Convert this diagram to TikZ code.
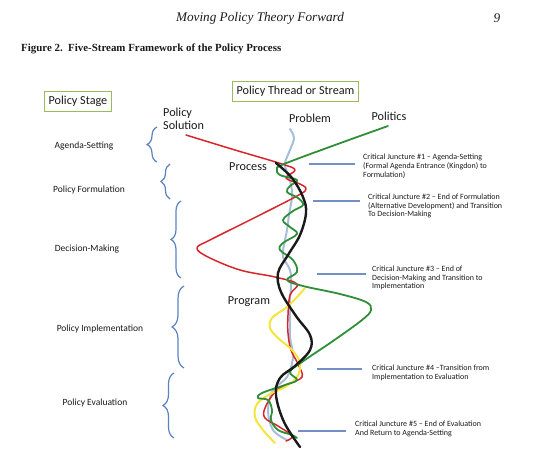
\documentclass[tikz,border=0pt]{standalone}
\usepackage{fontspec,xcolor,tikz}
\setmainfont{Liberation Serif}
\newfontfamily\calib{Carlito}
\usetikzlibrary{decorations.pathreplacing}
\definecolor{ink}{HTML}{1A1A1A}
\definecolor{solution}{HTML}{D8242B}
\definecolor{politics}{HTML}{2E8F38}
\definecolor{problem}{HTML}{A6BED8}
\definecolor{program}{HTML}{F4E53C}
\definecolor{bracket}{HTML}{5A82BE}
\definecolor{juncture}{HTML}{7291C2}
\definecolor{boxline}{HTML}{9BBB59}
\newcommand{\junc}{\fontsize{8}{8.8}\selectfont}
\newcommand{\stagef}{\fontsize{9.5}{11}\selectfont}
\newcommand{\streamf}{\fontsize{12.2}{13.6}\selectfont}
\tikzset{strand/.style={line width=1.6pt,line join=round,line cap=round},
  bracebar/.style={bracket,line width=1.2pt,decorate,decoration={brace,amplitude=#1}},
  junctbar/.style={juncture,line width=2.6pt},
  labelbox/.style={draw=boxline,line width=0.9pt,inner xsep=4pt,minimum height=20pt,font=\calib\streamf,text=ink}}

\begin{document}
\begin{tikzpicture}[x=1pt,y=-1pt]
\useasboundingbox (0,0) rectangle (552,459);
\node[inner sep=0,text=ink,font=\fontsize{13.2}{15}\selectfont\itshape] (runhead) at (260,18) {Moving Policy Theory Forward};
\node[inner sep=0,text=ink,font=\fontsize{13.2}{15}\selectfont\itshape] (pageno) at (497,18) {9};
\node[anchor=west,inner sep=0,text=ink,font=\fontsize{10.9}{12}\selectfont\bfseries] (caption) at (21,49) {Figure 2.\ \ Five-Stream Framework of the Policy Process};
\node[labelbox] (stagebox) at (78,101) {Policy Stage};
\node[labelbox] (streambox) at (295.5,91) {Policy Thread or Stream};
\node[anchor=west,inner sep=0,align=left,text=ink,font=\calib\streamf] (solution) at (163,119) {Policy\\Solution};
\node[inner sep=0,text=ink,font=\calib\streamf] (problem) at (310,118) {Problem};
\node[inner sep=0,text=ink,font=\calib\streamf] (politics) at (389,116) {Politics};
\node[inner sep=0,text=ink,font=\calib\streamf] (process) at (248,167) {Process};
\node[inner sep=0,text=ink,font=\calib\streamf] (program) at (249,302) {Program};
\node[inner sep=0,text=ink,font=\calib\stagef] (agenda) at (84,146) {Agenda-Setting};
\node[inner sep=0,text=ink,font=\calib\stagef] (formul) at (89,190) {Policy Formulation};
\node[inner sep=0,text=ink,font=\calib\stagef] (decide) at (87,249) {Decision-Making};
\node[inner sep=0,text=ink,font=\calib\stagef] (implem) at (100,329) {Policy Implementation};
\node[inner sep=0,text=ink,font=\calib\stagef] (evalu) at (95,403) {Policy Evaluation};
\draw[bracebar=10pt] (157,162) -- (157,127);
\draw[bracebar=9pt] (170,199) -- (170,164);
\draw[bracebar=10pt] (181,278) -- (181,201);
\draw[bracebar=12pt] (184,368) -- (184,286);
\draw[bracebar=11pt] (174,438) -- (174,373);
\draw[junctbar] (309,164) -- (355,164);
\draw[junctbar] (313,201) -- (360,201);
\draw[junctbar] (317,274) -- (366,274);
\draw[junctbar] (317,369) -- (362,369);
\draw[junctbar] (298,431) -- (346,431);
\node[anchor=west,inner sep=0,align=left,text=ink,font=\calib\junc] (cj1) at (363,166) {Critical Juncture \#1 – Agenda-Setting\\(Formal Agenda Entrance (Kingdon) to\\Formulation)};
\node[anchor=west,inner sep=0,align=left,text=ink,font=\calib\junc] (cj2) at (368,206) {Critical Juncture \#2 – End of Formulation\\(Alternative Development) and Transition\\To Decision-Making};
\node[anchor=west,inner sep=0,align=left,text=ink,font=\calib\junc] (cj3) at (372,278) {Critical Juncture \#3 – End of\\Decision-Making and Transition to\\Implementation};
\node[anchor=west,inner sep=0,align=left,text=ink,font=\calib\junc] (cj4) at (372,372.5) {Critical Juncture \#4 –Transition from\\Implementation to Evaluation};
\node[anchor=west,inner sep=0,align=left,text=ink,font=\calib\junc] (cj5) at (355,429) {Critical Juncture \#5 – End of Evaluation\\And Return to Agenda-Setting};
\draw[problem,strand,line width=2pt] plot[smooth,tension=0.6] coordinates {(290,129) (294,138) (290,150) (285,163) (287,172) (291,185) (292,197) (289,215) (287,230) (284,245) (283,257) (290,270) (291,285) (290,300) (290,317) (290,337) (293,357) (287,377) (273,390) (268,410) (273,430) (287,440)};
\draw[solution,strand,line width=1.5pt] plot[smooth,tension=0.6] coordinates {(186,135) (235,150) (282,164) (295,170) (286,178) (300,184) (306,189) (297,196) (250,220) (210,240) (197,248) (208,257) (240,270) (275,277) (297,284) (290,295) (288,315) (288,333) (291,350) (298,364) (302,377) (288,384) (275,392) (265,408) (265,418) (278,426) (292,436) (286,441)};
\draw[program,strand,line width=2pt] plot[smooth,tension=0.6] coordinates {(305,288) (297,297) (287,307) (272,318) (270,328) (278,338) (292,350) (300,363) (297,377) (285,387) (270,394) (257,404) (255,417) (263,430) (275,443)};
\draw[politics,strand,line width=1.8pt] plot[smooth,tension=0.6] coordinates {(388,126) (335,145) (284,164) (277,169) (280,175) (297,180) (290,186) (287,192) (298,198) (303,205) (293,211) (283,220) (290,227) (297,234) (283,243) (280,250) (293,260) (297,272) (287,280) (303,286) (340,294) (366,302) (371,310) (362,320) (333,341) (302,362) (290,372) (297,380) (285,385) (262,393) (258,398) (268,400) (272,410) (271,420) (278,430) (292,435) (297,438)};
\draw[ink,strand,line width=2.4pt] plot[smooth,tension=0.6] coordinates {(276,163) (292,178) (303,197) (306,213) (300,235) (288,255) (278,273) (281,292) (296,316) (310,335) (310,350) (295,366) (280,378) (276,395) (284,422) (300,447)};
\end{tikzpicture}
\end{document}
